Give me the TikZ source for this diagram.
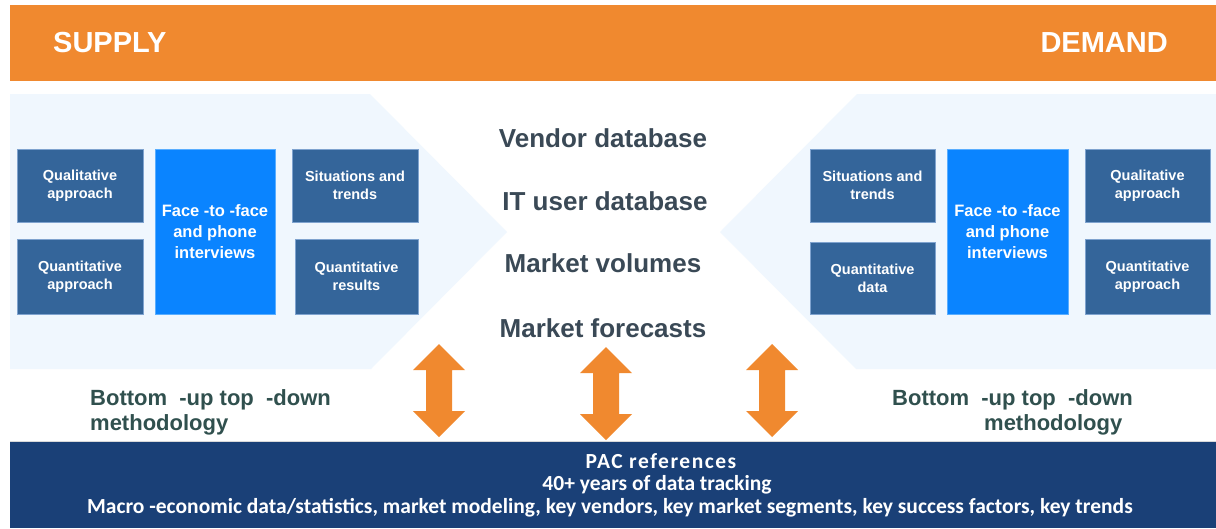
\documentclass[tikz,border=0pt]{standalone}
\usepackage{fontspec}
\setmainfont{Liberation Sans}
\newfontfamily\pacfont{Carlito}
\newfontfamily\pacwide[LetterSpace=7]{Carlito}
\usepackage{tikz, xcolor}

\definecolor{pacorange}{HTML}{F0892F}
\definecolor{pacnavy}{HTML}{1A4077}
\definecolor{panelblue}{HTML}{F0F7FE}
\definecolor{boxblue}{HTML}{34659A}
\definecolor{boxedge}{HTML}{7FA3CF}
\definecolor{facefill}{HTML}{0A84FF}
\definecolor{faceedge}{HTML}{5AAEFF}
\definecolor{midtext}{HTML}{3A4956}
\definecolor{methtext}{HTML}{30504E}

\begin{document}
\begin{tikzpicture}[x=1pt, y=-1pt,
    infobox/.style={draw=boxedge, line width=1pt, fill=boxblue, text=white,
      align=center, inner sep=2pt, font=\bfseries\fontsize{14.5}{17.7}\selectfont},
    facebox/.style={draw=faceedge, line width=1pt, fill=facefill, text=white,
      align=center, minimum width=120pt, minimum height=165pt,
      font=\bfseries\fontsize{16.5}{21}\selectfont},
    source/.style={text=midtext, anchor=base, font=\bfseries\fontsize{26}{30}\selectfont},
    method/.style={text=methtext, align=left, anchor=west, inner sep=0pt,
      font=\bfseries\fontsize{22}{25}\selectfont},
    side/.style={text=white, inner sep=0pt, font=\bfseries\fontsize{29}{30}\selectfont},
    pacline/.style={text=white, font=\pacfont\bfseries\fontsize{21.5}{22}\selectfont}]
    \useasboundingbox (0,0) rectangle (1216,528);
    \fill[white] (0,0) rectangle (1216,528);

    % supply / demand banner
    \fill[pacorange] (10,5) rectangle (1216,81);
    \node[side, anchor=base west] (supply) at (53,52) {SUPPLY};
    \node[side, anchor=base east] (demand) at (1168,52) {DEMAND};

    % light panels
    \fill[panelblue] (10,94) -- (370,94) -- (507,232) -- (371,369) -- (10,369) -- cycle;
    \fill[panelblue] (1216,94) -- (857,94) -- (720,232) -- (856,369) -- (1216,369) -- cycle;

    % supply side
    \node[infobox, minimum width=126pt, minimum height=73pt] (qualL) at (80,185.5) {Qualitative\\approach};
    \node[infobox, minimum width=126pt, minimum height=75pt] (quantL) at (80,276.5) {Quantitative\\approach};
    \node[facebox] (faceL) at (215,231.5) {Face -to -face\\and phone\\interviews};
    \node[infobox, minimum width=126pt, minimum height=73pt] (sitL) at (355,185.5) {Situations and\\trends};
    \node[infobox, minimum width=123pt, minimum height=75pt] (resL) at (356.5,276.5) {Quantitative\\results};

    % demand side
    \node[infobox, minimum width=125pt, minimum height=73pt] (sitR) at (872.5,185.5) {Situations and\\trends};
    \node[infobox, minimum width=125pt, minimum height=72pt] (dataR) at (872.5,278) {Quantitative\\data};
    \node[facebox, minimum width=121pt] (faceR) at (1007.5,231.5) {Face -to -face\\and phone\\interviews};
    \node[infobox, minimum width=125pt, minimum height=73pt] (qualR) at (1147.5,185.5) {Qualitative\\approach};
    \node[infobox, minimum width=125pt, minimum height=75pt] (quantR) at (1147.5,276.5) {Quantitative\\approach};

    % databases
    \node[source] (vendor) at (603,147) {Vendor database};
    \node[source] (users) at (605,210) {IT user database};
    \node[source] (volumes) at (603,272) {Market volumes};
    \node[source] (forecasts) at (603,337) {Market forecasts};

    \node[method] (methL) at (90,412) {Bottom~ -up top~ -down\\methodology};
    \node[method] (methR) at (892,412) {Bottom~ -up top~ -down\\\hspace*{92pt}methodology};

    % double arrows
    \foreach \ax/\ay in {439/344, 606/347, 772/344}
    {
      \fill[pacorange] (\ax,\ay) -- ++(26,26) -- ++(-13,0) -- ++(0,41) -- ++(13,0)
        -- ++(-26,26) -- ++(-26,-26) -- ++(13,0) -- ++(0,-41) -- ++(-13,0) -- cycle;
    }

    % references banner
    \fill[pacnavy] (10,442) rectangle (1216,528);
    \draw[black!15, line width=1pt] (10,441.5) -- (1216,441.5);
    \node[pacline, font=\pacwide\bfseries\fontsize{21.5}{22}\selectfont] (pacref) at (661,461.5) {PAC references};
    \node[pacline] (tracking) at (657,485) {40+ years of data tracking};
    \node[pacline] (macro) at (610,508) {Macro -economic data/statistics, market modeling, key vendors, key market segments, key success factors, key trends};

  \end{tikzpicture}
\end{document}
